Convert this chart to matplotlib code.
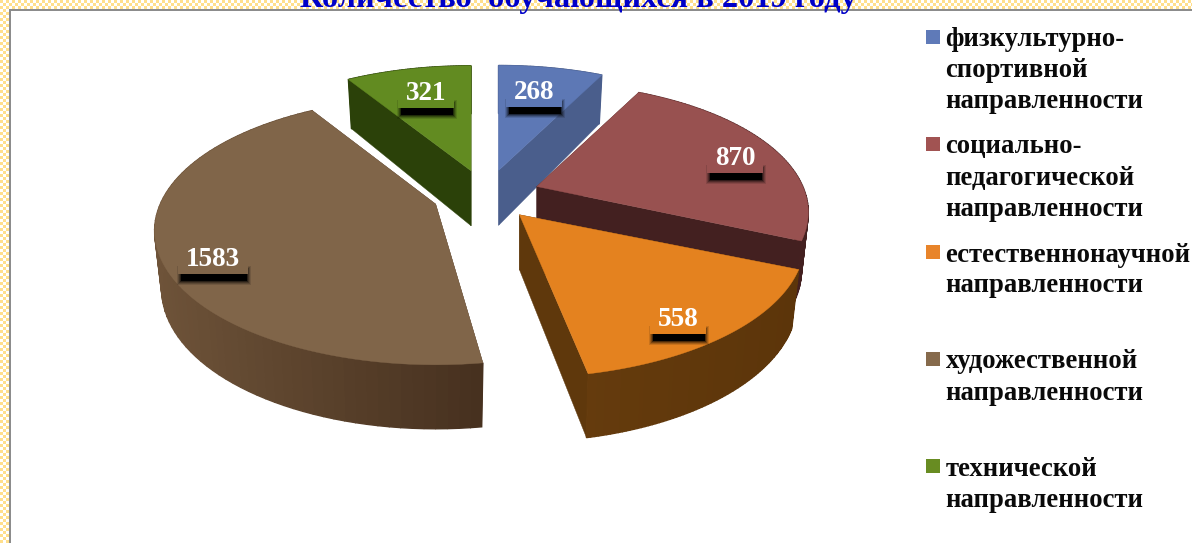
import numpy as np
import matplotlib
matplotlib.use("Agg")
import matplotlib.pyplot as plt
from matplotlib.patches import Polygon, Rectangle
from matplotlib.colors import to_rgb

title = "Количество  обучающихся в 2019 году"
categories = ["физкультурно-\nспортивной\nнаправленности",
              "социально-\nпедагогической\nнаправленности",
              "естественнонаучной\nнаправленности",
              "художественной\nнаправленности",
              "технической\nнаправленности"]
values = [268, 870, 558, 1583, 321]
top_colors = ["#5d78b5", "#985150", "#e4821f", "#806549", "#628b21"]
legend_colors = ["#5f7ab8", "#a15352", "#e8842a", "#866a4c", "#688c22"]
cut_colors = ["#4a5e8c", "#432020", "#5f380c", "#4d3826", "#2b4109"]
wall_left = ["#4a5e8c", "#5a2a2a", "#653b0d", "#6e5339", "#2b4109"]
wall_right = ["#4a5e8c", "#432020", "#5c350a", "#47311f", "#2b4109"]

# layout of the pie, in pixels
cx, cy = 486, 195
fx, fy = 270, 126
persp = 0.2
explode = 0.2
# small per slice corrections for the skew of the 3d view
scale = [1.0, 0.985, 1.035, 1.02, 1.0]
twist_start = [0, 0, -1, 2.5, 0]
twist_end = [0, 0, -1, 0.5, 0]
label_pos = [(534, 91), (735, 157), (678, 318), (213, 258), (426, 92)]
legend_y = [37, 144, 252, 359, 466]
legend_base = [[46.5, 77, 108], [153.5, 184.5, 215.5], [262, 292], [368, 400], [476, 507]]

fig = plt.figure(figsize=(11.92, 5.43), dpi=100)
ax = fig.add_axes([0, 0, 1, 1])
ax.set_xlim(0, 1192)
ax.set_ylim(543, 0)
ax.axis("off")

# checker border
ii, jj = np.indices((543, 1192))
check = ((ii // 3 + jj // 3) % 2).astype(float)
rgb = np.ones((543, 1192, 3))
rgb[check == 0] = to_rgb("#ffdf8c")
ax.imshow(rgb, extent=(0, 1192, 543, 0), aspect="auto", interpolation="nearest", zorder=0)
ax.add_patch(Rectangle((9, 9), 1183, 534, fc="white", ec="none", zorder=1))
ax.add_patch(Rectangle((9, 9), 1183, 2, fc="#8c8c8c", ec="none", zorder=1))
ax.add_patch(Rectangle((9, 9), 2, 534, fc="#8c8c8c", ec="none", zorder=1))


def project(ang, ax0, ay0, s):
    # ang in degrees clockwise from 12 o'clock, returns top and bottom rim points
    a = np.radians(ang)
    X, Y = np.sin(a), np.cos(a)
    w = 1 + persp * Y
    x = s * fx * X / w
    y = -s * fy * Y / w
    depth = 56 - 8 * Y
    return ax0 + x, ay0 + y, ax0 + 0.975 * x, ay0 + y + depth


edges = np.concatenate([[0], np.cumsum(values)]) / np.sum(values) * 360
z = 2
for i in [4, 0, 1, 3, 2]:
    a0, a1 = edges[i], edges[i + 1]
    mid = np.radians((a0 + a1) / 2)
    ax0 = cx + fx * explode * np.sin(mid)
    ay0 = cy - fy * explode * np.cos(mid)
    ang = np.linspace(a0 + twist_start[i], a1 + twist_end[i], 80)
    tx, ty, bx, by = project(ang, ax0, ay0, scale[i])

    # cut faces
    for k in (0, -1):
        pts = [(ax0, ay0), (tx[k], ty[k]), (bx[k], by[k]), (ax0, ay0 + 55)]
        ax.add_patch(Polygon(pts, fc=cut_colors[i], ec=cut_colors[i], lw=0.3, zorder=z))
    # outer wall, shaded from left to right
    c0, c1 = np.array(to_rgb(wall_left[i])), np.array(to_rgb(wall_right[i]))
    for k in range(len(ang) - 1):
        t = (tx[k] - tx.min()) / max(tx.max() - tx.min(), 1)
        col = c0 + (c1 - c0) * t
        pts = [(tx[k], ty[k]), (tx[k + 1], ty[k + 1]), (bx[k + 1], by[k + 1]), (bx[k], by[k])]
        ax.add_patch(Polygon(pts, fc=col, ec=col, lw=1.0, zorder=z))
    # top face
    pts = [(ax0, ay0)] + list(zip(tx, ty))
    ax.add_patch(Polygon(pts, fc=top_colors[i], ec=top_colors[i], lw=0.3, zorder=z + 0.5))
    z += 1

# value labels with a dark shadow under the box
for i, (lx, ly) in enumerate(label_pos):
    w = 35 if values[i] > 999 else 28
    for grow, alpha in [(4, 0.12), (3, 0.18), (2, 0.25), (1, 0.4), (0, 1)]:
        ax.add_patch(Rectangle((lx - w + 3 - grow, ly + 12 - grow), 2 * w - 4 + 2 * grow, 11 + 2 * grow,
                               fc="black", ec="none", alpha=alpha, zorder=10))
    ax.add_patch(Rectangle((lx - w, ly - 16), 2 * w, 32, fc=top_colors[i], ec="none", zorder=11))
    ax.text(lx, ly + 8, str(values[i]), color="white", fontsize=19.5, fontweight="bold",
            family="Liberation Serif", ha="center", va="baseline", zorder=12)

# legend
for i, name in enumerate(categories):
    ax.add_patch(Rectangle((926, legend_y[i] - 7), 14, 14, fc=legend_colors[i], ec="none", zorder=5))
    for line, base in zip(name.split("\n"), legend_base[i]):
        ax.text(945.5, base, line, color="#0a0a0a", fontsize=19.2, fontweight="bold",
                family="Liberation Serif", ha="left", va="baseline", zorder=5)

# the title sits on the border and is cut by the top edge, as in the source picture
ax.text(578, 7, title, color="#0000c8", fontsize=23.3, fontweight="bold",
        family="Liberation Serif", ha="center", va="baseline", zorder=6)

fig.savefig("out.png", dpi=100)
